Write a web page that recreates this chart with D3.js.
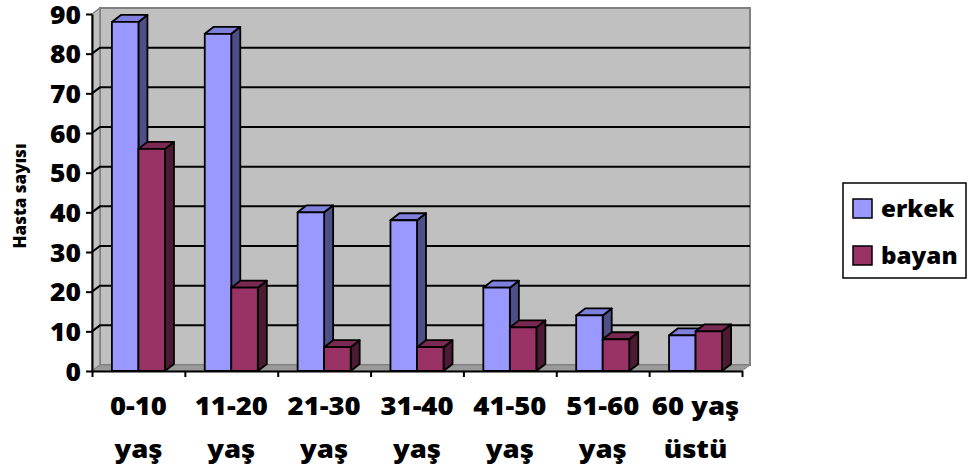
<!DOCTYPE html>
<html>
<head>
<meta charset="utf-8">
<script src="https://cdn.jsdelivr.net/npm/d3@7/dist/d3.min.js"></script>
<style>
  html, body { margin: 0; padding: 0; background: #ffffff; }
  svg { display: block; font-family: "Open Sans", Lato, "DejaVu Sans", sans-serif; }
</style>
</head>
<body>
<svg id="chart" width="968" height="470"></svg>
<script>
// Age groups and patient counts per sex
const categories = ["0-10 yaş", "11-20 yaş", "21-30 yaş", "31-40 yaş", "41-50 yaş", "51-60 yaş", "60 yaş üstü"];
const seriesNames = ["erkek", "bayan"];
const erkek = [88, 85, 40, 38, 21, 14, 9];
const bayan = [56, 21, 6, 6, 11, 8, 10];
const yTicks = [0, 10, 20, 30, 40, 50, 60, 70, 80, 90];
const yTitle = "Hasta sayısı";

const colors = {
  erkek: { front: "#9999ff", top: "#7f7fdc", side: "#4f4f88" },
  bayan: { front: "#993366", top: "#7a2952", side: "#4d1a33" }
};

const FONT = "'Open Sans', Lato, sans-serif";
const WEIGHT = 800;
const STRETCH = 1.1;   // labels are set slightly wide

const svg = d3.select("#chart");

// plot frame (front plane of the 3D box)
const plotLeft = 92, plotRight = 742, plotBottom = 371, plotTop = 14;
const wallDx = 8, wallDy = -6;   // depth of floor and side wall
const barDx = 9, barDy = -7;     // depth of each column

const y = d3.scaleLinear().domain([0, 90]).range([plotBottom, plotTop]);
const x = d3.scaleBand().domain(categories).range([plotLeft, plotRight]);
const xs = d3.scaleBand().domain(seriesNames).range([0, x.bandwidth()]).paddingOuter(0.75);
const xEdges = d3.scaleLinear().domain([0, categories.length]).range([plotLeft, plotRight]);

const g = svg.append("g");

// back wall
g.append("rect")
  .attr("x", plotLeft + wallDx).attr("y", y(90) + wallDy)
  .attr("width", plotRight - plotLeft).attr("height", y(0) - y(90))
  .attr("fill", "#c0c0c0").attr("stroke", "#808080").attr("stroke-width", 2);

// side wall
g.append("polygon")
  .attr("points", [[plotLeft, y(90)], [plotLeft + wallDx, y(90) + wallDy], [plotLeft + wallDx, y(0) + wallDy], [plotLeft, y(0)]].join(" "))
  .attr("fill", "#c0c0c0").attr("stroke", "#808080").attr("stroke-width", 1.5);

// floor
g.append("polygon")
  .attr("points", [[plotLeft, y(0)], [plotRight, y(0)], [plotRight + wallDx, y(0) + wallDy], [plotLeft + wallDx, y(0) + wallDy]].join(" "))
  .attr("fill", "#9a9a9a").attr("stroke", "#808080").attr("stroke-width", 1);

// gridlines across the side wall and back wall
const grid = yTicks.filter(v => v > 0 && v < 90);
g.selectAll(".grid").data(grid).enter().append("polyline")
  .attr("class", "grid")
  .attr("points", v => [[plotLeft, y(v)], [plotLeft + wallDx, y(v) + wallDy], [plotRight + wallDx, y(v) + wallDy]].join(" "))
  .attr("fill", "none").attr("stroke", "#000").attr("stroke-width", 2);

// columns, drawn left to right so each one covers its neighbour's side face
const bars = [];
categories.forEach((c, i) => {
  bars.push({ cat: c, key: "erkek", value: erkek[i] });
  bars.push({ cat: c, key: "bayan", value: bayan[i] });
});
const bw = xs.bandwidth();
const barG = g.selectAll(".bar").data(bars).enter().append("g").attr("class", "bar");
barG.each(function(d) {
  const x0 = x(d.cat) + xs(d.key), x1 = x0 + bw;
  const yv = y(d.value), y0 = y(0);
  const col = colors[d.key];
  const sel = d3.select(this);
  const style = s => s.attr("stroke", "#000").attr("stroke-width", 1.8).attr("stroke-linejoin", "round");
  style(sel.append("polygon")
    .attr("points", [[x1, yv], [x1 + barDx, yv + barDy], [x1 + barDx, y0 + barDy], [x1, y0]].join(" "))
    .attr("fill", col.side));
  style(sel.append("polygon")
    .attr("points", [[x0, yv], [x0 + barDx, yv + barDy], [x1 + barDx, yv + barDy], [x1, yv]].join(" "))
    .attr("fill", col.top));
  style(sel.append("rect")
    .attr("x", x0).attr("y", yv).attr("width", bw).attr("height", y0 - yv)
    .attr("fill", col.front));
});

// value axis
const yAxis = svg.append("g").attr("transform", `translate(${plotLeft},0)`)
  .call(d3.axisLeft(y).tickValues(yTicks).tickSize(6).tickSizeOuter(0).tickPadding(5));
yAxis.selectAll("path, line").attr("stroke", "#000").attr("stroke-width", 2);
yAxis.selectAll("text")
  .attr("font-family", FONT).attr("font-weight", WEIGHT)
  .attr("font-size", 24).attr("fill", "#000")
  .attr("x", -11 / STRETCH).attr("dy", "0.38em")
  .attr("transform", `scale(${STRETCH},1)`);

// category axis with ticks between groups
svg.append("g").attr("transform", `translate(0,${plotBottom})`)
  .call(d3.axisBottom(xEdges).tickValues(d3.range(0, categories.length + 1)).tickFormat("").tickSize(6).tickSizeOuter(0))
  .selectAll("path, line").attr("stroke", "#000").attr("stroke-width", 2);

// two-line category labels: last word goes on the second line
const labelG = svg.append("g").selectAll("g").data(categories).enter().append("g")
  .attr("transform", d => `translate(${x(d) + x.bandwidth() / 2},0) scale(${STRETCH},1)`);
labelG.each(function(d) {
  const words = d.split(" ");
  const lines = [words.slice(0, -1).join(" "), words[words.length - 1]];
  const t = d3.select(this).append("text")
    .attr("text-anchor", "middle")
    .attr("font-family", FONT).attr("font-weight", WEIGHT).attr("font-size", 25).attr("fill", "#000");
  lines.forEach((ln, k) => {
    t.append("tspan").attr("x", 0).attr("y", 415 + k * 43).text(ln);
  });
});

// axis title
svg.append("text")
  .attr("transform", "translate(26,196) rotate(-90)")
  .attr("text-anchor", "middle")
  .attr("font-family", FONT).attr("font-weight", WEIGHT).attr("font-size", 17).attr("fill", "#000")
  .text(yTitle);

// legend
const legend = svg.append("g");
legend.append("rect")
  .attr("x", 843).attr("y", 183).attr("width", 123).attr("height", 95)
  .attr("fill", "#fff").attr("stroke", "#000").attr("stroke-width", 1.5);
const items = legend.selectAll(".item").data(seriesNames).enter().append("g")
  .attr("class", "item")
  .attr("transform", (d, i) => `translate(853,${199 + i * 47})`);
items.append("rect")
  .attr("width", 19).attr("height", 19)
  .attr("fill", d => colors[d].front).attr("stroke", "#000").attr("stroke-width", 1.5);
items.append("text")
  .attr("transform", `translate(28,18) scale(${STRETCH},1)`)
  .attr("font-family", FONT).attr("font-weight", WEIGHT).attr("font-size", 22).attr("fill", "#000")
  .text(d => d);
</script>
</body>
</html>
